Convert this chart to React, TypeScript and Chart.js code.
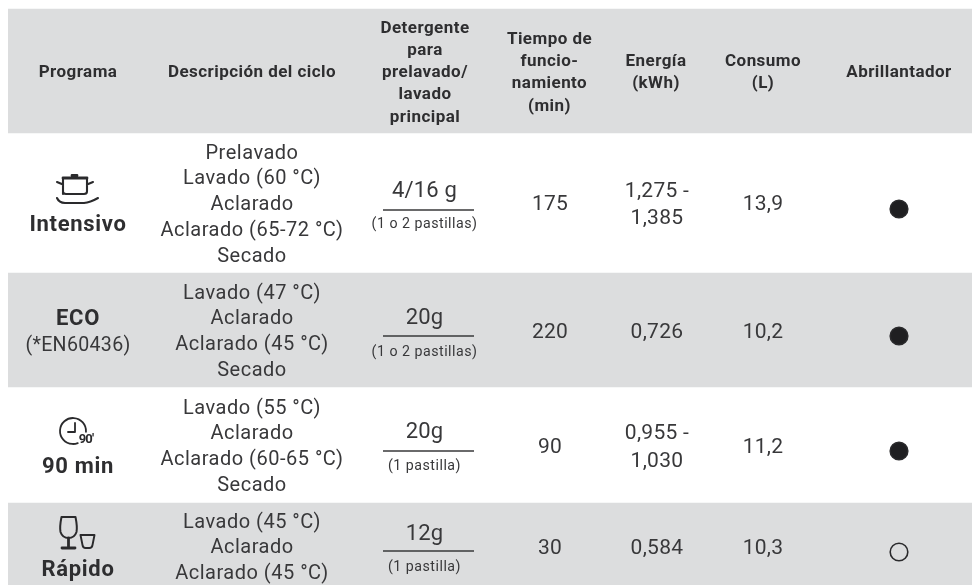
import React, { useEffect, useRef } from "react";
import { Chart, registerables } from "chart.js";

Chart.register(...registerables);

// ---- data ----
const headers = [
  ["Programa"],
  ["Descripción del ciclo"],
  ["Detergente", "para", "prelavado/", "lavado", "principal"],
  ["Tiempo de", "funcio-", "namiento", "(min)"],
  ["Energía", "(kWh)"],
  ["Consumo", "(L)"],
  ["Abrillantador"],
];
const programs = ["Intensivo", "ECO", "90 min", "Rápido"];
const programNotes = ["", "(*EN60436)", "", ""];
const descriptions = [
  ["Prelavado", "Lavado (60 °C)", "Aclarado", "Aclarado (65-72 °C)", "Secado"],
  ["Lavado (47 °C)", "Aclarado", "Aclarado (45 °C)", "Secado"],
  ["Lavado (55 °C)", "Aclarado", "Aclarado (60-65 °C)", "Secado"],
  ["Lavado (45 °C)", "Aclarado", "Aclarado (45 °C)"],
];
const detergentAmounts = ["4/16 g", "20g", "20g", "12g"];
const detergentNotes = ["(1 o 2 pastillas)", "(1 o 2 pastillas)", "(1 pastilla)", "(1 pastilla)"];
const runtimes = ["175", "220", "90", "30"];
const energies = [["1,275 -", "1,385"], ["0,726"], ["0,955 -", "1,030"], ["0,584"]];
const water = ["13,9", "10,2", "11,2", "10,3"];
const rinseAid = [true, true, true, false];

// ---- layout, in scale units ----
const columnCentres = [78, 252, 424.5, 550, 657, 763, 899];
const headerCentres = [78, 252, 425, 549.5, 656, 763, 899];
const greyBands: [number, number][] = [[9, 133], [273, 387], [503, 600]];
const headerMiddle = 73;
const rowMiddles = [205, 332.5, 447.5, 548.5];
const descriptionTops = [153.5, 293.5, 408.5, 522.5];
const amountYs = [191.5, 318.5, 432.5, 534.5];
const ruleYs = [210, 336, 451, 551];
const noteYs = [224.5, 352.5, 466.5, 567.5];
const programYs = [225, 319, 467.5, 570.5];
const markYs = [209, 336, 451, 552];
const BAND = "#dcddde";
const INK = "#38383a";
const FONT = "Roboto, sans-serif";

const tablePlugin = {
  id: "tableText",
  afterDatasetsDraw(chart: any) {
    const { ctx, scales } = chart;
    const X = (v: number) => scales.x.getPixelForValue(v);
    const Y = (v: number) => scales.y.getPixelForValue(v);
    const text = (s: string, x: number, y: number, font: string, spacing = "0px") => {
      ctx.font = font;
      (ctx as any).letterSpacing = spacing;
      ctx.fillText(s, X(x), Y(y));
    };
    ctx.save();
    ctx.fillStyle = "#2e2e30";
    ctx.strokeStyle = INK;
    ctx.textAlign = "center";
    ctx.textBaseline = "middle";

    // header
    headers.forEach((lines, c) => {
      const lh = 22.2;
      const top = headerMiddle - ((lines.length - 1) * lh) / 2;
      lines.forEach((l, i) =>
        text(l, headerCentres[c], top + i * lh, `700 17px ${FONT}`, "0.45px")
      );
    });

    ctx.fillStyle = INK;
    rowMiddles.forEach((mid, r) => {
      // description lines
      descriptions[r].forEach((l, i) =>
        text(l, columnCentres[1], descriptionTops[r] + i * 25.8, `400 20px ${FONT}`, "0.5px")
      );

      // detergent
      const dx = columnCentres[2];
      text(detergentAmounts[r], dx, amountYs[r], `400 22px ${FONT}`, "0.2px");
      ctx.lineWidth = 1.3;
      ctx.beginPath();
      ctx.moveTo(X(383), Y(ruleYs[r]));
      ctx.lineTo(X(474), Y(ruleYs[r]));
      ctx.stroke();
      text(detergentNotes[r], dx, noteYs[r], `400 14.2px ${FONT}`, "0.5px");

      // numbers
      text(runtimes[r], columnCentres[3], mid, `400 21px ${FONT}`, "0.2px");
      const en = energies[r];
      en.forEach((l, i) =>
        text(l, columnCentres[4], mid + (i - (en.length - 1) / 2) * 27.5, `400 21px ${FONT}`, "0.3px")
      );
      text(water[r], columnCentres[5], mid, `400 21px ${FONT}`, "0.2px");
    });

    // program column
    const px = columnCentres[0];
    const boldName = `700 22px ${FONT}`;
    ctx.fillStyle = "#2e2e30";
    programs.forEach((p, r) => text(p, px, programYs[r], boldName, "0.7px"));
    ctx.fillStyle = INK;
    text(programNotes[1], px, 346.5, `400 19.6px ${FONT}`, "0.3px");

    // icons
    ctx.lineCap = "round";
    ctx.lineJoin = "round";
    // pot
    ctx.save();
    ctx.translate(X(75), Y(203.5));
    ctx.strokeStyle = "#2a2a2c";
    ctx.lineWidth = 2.1;
    ctx.beginPath();
    ctx.moveTo(-12, -9.5);
    ctx.lineTo(-12, -25.5);
    ctx.moveTo(12, -25.5);
    ctx.lineTo(12, -12);
    ctx.quadraticCurveTo(12, -9.5, 9, -9.5);
    ctx.lineTo(-9, -9.5);
    ctx.quadraticCurveTo(-12, -9.5, -12, -12);
    ctx.moveTo(-18, -21.5);
    ctx.lineTo(-12, -19);
    ctx.moveTo(18, -21.5);
    ctx.lineTo(12, -19);
    ctx.moveTo(-18, -5.5);
    ctx.quadraticCurveTo(-16, -0.8, -10, -0.5);
    ctx.lineTo(9, -0.5);
    ctx.quadraticCurveTo(15, -1, 23, -5.5);
    ctx.stroke();
    ctx.lineWidth = 2.8;
    ctx.beginPath();
    ctx.moveTo(-12, -25.5);
    ctx.lineTo(12, -25.5);
    ctx.moveTo(-3, -28);
    ctx.lineTo(2, -28);
    ctx.stroke();
    ctx.restore();

    // clock
    ctx.save();
    ctx.translate(X(73), Y(431));
    ctx.strokeStyle = "#2a2a2c";
    ctx.lineWidth = 1.8;
    ctx.beginPath();
    ctx.arc(0, 0, 13, Math.PI * 0.02, Math.PI * 1.98 - Math.PI * 1.6, true);
    ctx.stroke();
    ctx.beginPath();
    ctx.moveTo(2, -8);
    ctx.lineTo(2, 1);
    ctx.lineTo(-5, 1);
    ctx.stroke();
    ctx.restore();
    ctx.fillStyle = "#2a2a2c";
    text("90'", 86, 440, `700 13px ${FONT}`, "-0.8px");

    // glasses
    ctx.save();
    ctx.translate(X(68.5), Y(517));
    ctx.strokeStyle = "#2a2a2c";
    ctx.lineWidth = 2;
    ctx.beginPath();
    ctx.moveTo(-7, 0);
    ctx.lineTo(7, 0);
    ctx.quadraticCurveTo(9, 10, 8, 15);
    ctx.quadraticCurveTo(6, 21, 0, 21);
    ctx.quadraticCurveTo(-6, 21, -8, 15);
    ctx.quadraticCurveTo(-9, 10, -7, 0);
    ctx.stroke();
    ctx.lineWidth = 2.8;
    ctx.beginPath();
    ctx.moveTo(0, 21);
    ctx.lineTo(0, 31);
    ctx.moveTo(-6.5, 31);
    ctx.lineTo(6.5, 31);
    ctx.stroke();
    ctx.lineWidth = 1.9;
    ctx.beginPath();
    ctx.moveTo(12, 18);
    ctx.lineTo(26, 18);
    ctx.lineTo(24, 28);
    ctx.quadraticCurveTo(23.5, 31, 21, 31);
    ctx.lineTo(17, 31);
    ctx.quadraticCurveTo(14.5, 31, 14, 28);
    ctx.closePath();
    ctx.stroke();
    ctx.restore();
    ctx.restore();
  },
};

export default function App() {
  const ref = useRef<HTMLCanvasElement>(null);
  useEffect(() => {
    const chart = new Chart(ref.current!, {
      type: "bar",
      data: {
        labels: ["all"],
        datasets: [
          ...greyBands.map((b) => ({
            type: "bar" as const,
            xAxisID: "band",
            yAxisID: "y",
            order: 2,
            data: [{ x: "all", y: b }] as any,
            backgroundColor: BAND,
            borderWidth: 0,
            categoryPercentage: 1,
            barPercentage: 1,
            grouped: false,
          })),
          {
            type: "scatter" as const,
            xAxisID: "x",
            yAxisID: "y",
            order: 1,
            data: rinseAid.map((_, r) => ({ x: columnCentres[6], y: markYs[r] })) as any,
            pointRadius: 8.8,
            pointBorderWidth: 1.6,
            pointBorderColor: "#2a2a2c",
            pointBackgroundColor: rinseAid.map((f) => (f ? "#1f1f21" : "rgba(0,0,0,0)")),
            showLine: false,
          },
        ],
      },
      options: {
        responsive: false,
        animation: false,
        layout: { autoPadding: false, padding: { left: 8, right: 0, top: 0, bottom: 0 } },
        plugins: { legend: { display: false }, tooltip: { enabled: false } },
        scales: {
          band: { type: "category", labels: ["all"], display: false, offset: true },
          x: { type: "linear", min: 8, max: 972, display: false, offset: false },
          y: { type: "linear", min: 0, max: 585, reverse: true, display: false },
        },
      },
      plugins: [tablePlugin],
    });
    return () => chart.destroy();
  }, []);
  return (
    <div style={{ position: "fixed", left: 0, top: 0, width: 972, height: 585, background: "#fff" }}>
      <canvas ref={ref} width={972} height={585} style={{ display: "block" }} />
    </div>
  );
}
